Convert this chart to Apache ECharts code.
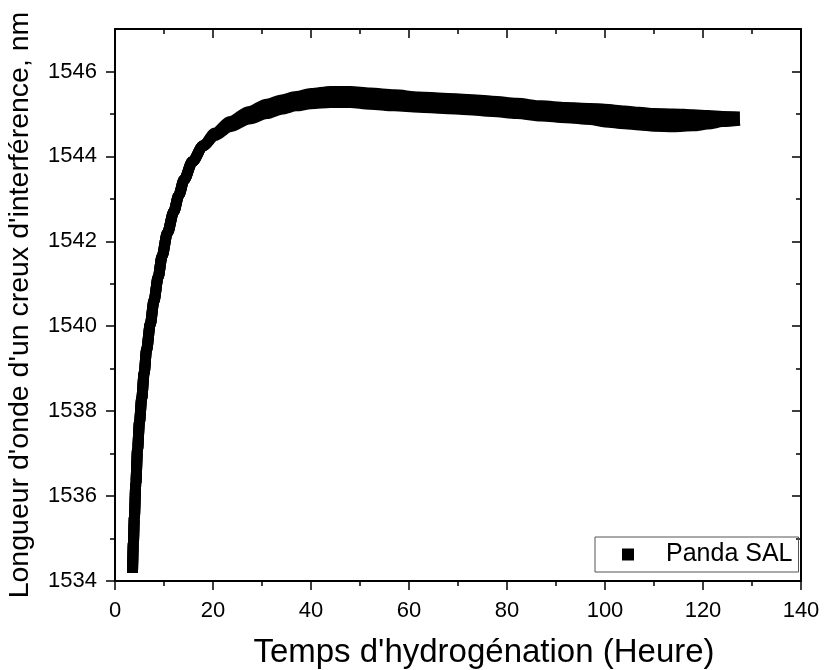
<!DOCTYPE html>
<html>
<head>
<meta charset="utf-8">
<script src="https://cdn.jsdelivr.net/npm/echarts@6/dist/echarts.min.js"></script>
<style>html,body{margin:0;padding:0;background:#fff}#c{width:825px;height:670px}</style>
</head>
<body>
<div id="c"></div>
<script>
// Time (hours)
const time = [3.57, 3.75, 3.95, 4.25, 4.6, 5.0, 5.45, 5.95, 6.45, 7.2, 7.95, 8.8, 9.6, 10.7, 12.0, 13.0, 14.1, 15.8, 18.0, 20.4, 23.5, 27.4, 31, 34, 37, 40, 44, 48, 52, 57, 62, 67, 72, 77, 82, 87, 92, 97, 100, 104, 107, 110, 114, 118, 121, 124, 127.5];
// Band centre wavelength (nm)
const wlMid = [1534.19, 1534.9, 1535.5, 1536.3, 1537.1, 1537.75, 1538.3, 1538.9, 1539.45, 1540.05, 1540.6, 1541.15, 1541.65, 1542.2, 1542.7, 1543.08, 1543.45, 1543.88, 1544.25, 1544.52, 1544.76, 1544.97, 1545.12, 1545.22, 1545.3, 1545.36, 1545.4, 1545.4, 1545.36, 1545.32, 1545.28, 1545.25, 1545.22, 1545.18, 1545.13, 1545.07, 1545.03, 1545.0, 1544.96, 1544.92, 1544.89, 1544.86, 1544.85, 1544.85, 1544.86, 1544.88, 1544.89];
// Half spread of the scattered readings around the centre (nm)
const wlSpread = [0, 0, 0, 0, 0, 0, 0, 0, 0, 0, 0, 0, 0, 0, 0, 0, 0, 0, 0, 0.03, 0.06, 0.09, 0.11, 0.11, 0.11, 0.12, 0.13, 0.13, 0.13, 0.13, 0.12, 0.12, 0.12, 0.12, 0.12, 0.12, 0.12, 0.13, 0.15, 0.15, 0.15, 0.15, 0.15, 0.13, 0.1, 0.06, 0.04];
const xTicks = [0, 20, 40, 60, 80, 100, 120, 140];
const yMajor = [1534, 1536, 1538, 1540, 1542, 1544, 1546];
const yMinor = [1535, 1537, 1539, 1541, 1543, 1545];
const seriesName = 'Panda SAL';

const FONT = '"Liberation Sans", Arial, sans-serif';
const mid = time.map((t, i) => [t, wlMid[i]]);
const low = time.map((t, i) => [t, wlMid[i] - wlSpread[i]]);
const high = time.map((t, i) => [t, wlMid[i] + wlSpread[i]]);

const axLine = { show: true, lineStyle: { color: '#000', width: 2 } };
const tickStyle = { color: '#000', width: 1.5 };
const plain = v => String(v);

function lineSeries(data) {
  return {
    name: seriesName, type: 'line', data: data, showSymbol: false, symbol: 'none',
    smooth: 0.3, smoothMonotone: 'x', xAxisIndex: 0, yAxisIndex: 0,
    lineStyle: { color: '#000', width: 11, cap: 'butt', join: 'round' },
    itemStyle: { color: '#000' }, silent: true, animation: false
  };
}

const chart = echarts.init(document.getElementById('c'), null, { renderer: 'canvas' });
chart.setOption({
  animation: false,
  backgroundColor: '#fff',
  grid: { left: 115, right: 24, top: 29, bottom: 89, containLabel: false, outerBoundsMode: 'none' },
  legend: {
    data: [{ name: seriesName, icon: 'rect' }],
    left: 595, top: 537,
    itemWidth: 12, itemHeight: 12,
    padding: [5, 6, 5, 27],
    borderColor: '#555', borderWidth: 1,
    textStyle: { fontFamily: FONT, fontSize: 25, color: '#000', padding: [0, 0, 0, 27] }
  },
  xAxis: [
    {
      type: 'value', position: 'bottom', min: xTicks[0], max: xTicks[xTicks.length - 1], interval: xTicks[1] - xTicks[0],
      axisLine: axLine,
      axisTick: { show: true, length: 9, lineStyle: tickStyle },
      minorTick: { show: true, splitNumber: 2, length: 5, lineStyle: tickStyle },
      axisLabel: { fontFamily: FONT, fontSize: 22, color: '#000', margin: 19, formatter: plain },
      splitLine: { show: false },
      name: "Temps d'hydrogénation (Heure)", nameLocation: 'middle', nameGap: 55,
      nameTextStyle: { fontFamily: FONT, fontSize: 33, color: '#000', padding: [0, 0, 0, 52] }
    },
    {
      type: 'value', position: 'top', min: xTicks[0], max: xTicks[xTicks.length - 1], interval: xTicks[1] - xTicks[0],
      axisLine: axLine,
      axisTick: { show: true, inside: true, length: 9, lineStyle: tickStyle },
      minorTick: { show: true, splitNumber: 2, length: 5, lineStyle: tickStyle },
      axisLabel: { show: false }, splitLine: { show: false }
    }
  ],
  yAxis: [
    {
      type: 'value', position: 'left', min: 1534, max: 1547,
      axisLine: axLine,
      axisTick: { show: true, length: 9, lineStyle: tickStyle, customValues: yMajor },
      axisLabel: { fontFamily: FONT, fontSize: 22, color: '#000', margin: 18, customValues: yMajor, formatter: plain },
      splitLine: { show: false },
      name: "Longueur d'onde d'un creux d'interférence, nm", nameLocation: 'middle', nameGap: 80,
      nameTextStyle: { fontFamily: FONT, fontSize: 28.5, color: '#000' }
    },
    {
      type: 'value', position: 'left', min: 1534, max: 1547,
      axisLine: { show: false },
      axisTick: { show: true, length: 5, lineStyle: tickStyle, customValues: yMinor },
      axisLabel: { show: false }, splitLine: { show: false }
    },
    {
      type: 'value', position: 'right', min: 1534, max: 1547,
      axisLine: axLine,
      axisTick: { show: true, inside: true, length: 9, lineStyle: tickStyle, customValues: yMajor },
      axisLabel: { show: false }, splitLine: { show: false }
    },
    {
      type: 'value', position: 'right', min: 1534, max: 1547,
      axisLine: { show: false },
      axisTick: { show: true, inside: true, length: 5, lineStyle: tickStyle, customValues: yMinor },
      axisLabel: { show: false }, splitLine: { show: false }
    }
  ],
  series: [lineSeries(low), lineSeries(high), lineSeries(mid)]
});
</script>
</body>
</html>
